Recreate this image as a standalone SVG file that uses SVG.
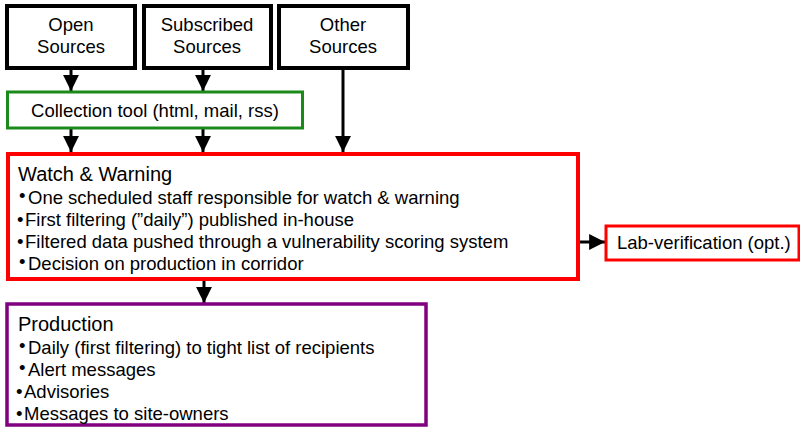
<svg xmlns="http://www.w3.org/2000/svg" width="800" height="427" viewBox="0 0 800 427">
<style>
text{font-family:"Liberation Sans",Arial,sans-serif;fill:#000}
.src{fill:#fff;stroke:#000;stroke-width:4}
.c{text-anchor:middle;font-size:18.5px}
.b{font-size:18.5px}
.t{font-size:20px}
.ln{stroke:#000;stroke-width:3;fill:none}
</style>
<defs>
<marker id="ah" viewBox="0 0 10 10" refX="10" refY="5" markerWidth="5.3" markerHeight="5.3" orient="auto" markerUnits="strokeWidth">
<path d="M0,0 L10,5 L0,10 z" fill="#000"/>
</marker>
</defs>
<rect width="800" height="427" fill="#fff"/>
<g id="connectors">
<line class="ln" x1="71" y1="70" x2="71" y2="91" marker-end="url(#ah)"/>
<line class="ln" x1="203" y1="70" x2="203" y2="91" marker-end="url(#ah)"/>
<line class="ln" x1="343" y1="70" x2="343" y2="152" marker-end="url(#ah)"/>
<line class="ln" x1="71" y1="129" x2="71" y2="152" marker-end="url(#ah)"/>
<line class="ln" x1="203" y1="129" x2="203" y2="152" marker-end="url(#ah)"/>
<line class="ln" x1="204" y1="280" x2="204" y2="303" marker-end="url(#ah)"/>
<line class="ln" x1="580" y1="242" x2="605" y2="242" marker-end="url(#ah)"/>
</g>
<g id="open-sources">
<rect class="src" x="7" y="6" width="128" height="62"/>
<text class="c" x="71" y="31">Open</text>
<text class="c" x="71" y="53">Sources</text>
</g>
<g id="subscribed-sources">
<rect class="src" x="144" y="6" width="127" height="62"/>
<text class="c" x="207" y="31">Subscribed</text>
<text class="c" x="207" y="53">Sources</text>
</g>
<g id="other-sources">
<rect class="src" x="279" y="6" width="129" height="62"/>
<text class="c" x="343" y="31">Other</text>
<text class="c" x="343" y="53">Sources</text>
</g>
<g id="collection-tool">
<rect x="7.5" y="92" width="295" height="36" fill="#fff" stroke="#1a8a1a" stroke-width="3"/>
<text class="c" x="155" y="117">Collection tool (html, mail, rss)</text>
</g>
<g id="watch-warning">
<rect x="8" y="154" width="570" height="125" fill="#fff" stroke="#f00" stroke-width="4"/>
<text class="t" x="18" y="180.5">Watch &amp; Warning</text>
<text class="b" x="19" y="204"><tspan dy="-2.5">•</tspan><tspan x="28" dy="2.5">One scheduled staff responsible for watch &amp; warning</tspan></text>
<text class="b" x="17" y="226">•<tspan x="25">First filtering (”daily”) published in-house</tspan></text>
<text class="b" x="17" y="248">•<tspan x="25">Filtered data pushed through a vulnerability scoring system</tspan></text>
<text class="b" x="19" y="270"><tspan dy="-2.5">•</tspan><tspan x="28" dy="2.5">Decision on production in corridor</tspan></text>
</g>
<g id="lab-verification">
<rect x="606" y="226" width="193" height="34" fill="#fff" stroke="#f00" stroke-width="3"/>
<text class="b" x="617" y="249">Lab-verification (opt.)</text>
</g>
<g id="production">
<rect x="7" y="304" width="419" height="121" fill="#fff" stroke="#800080" stroke-width="3.5"/>
<text class="t" x="18" y="330.5">Production</text>
<text class="b" x="19" y="354"><tspan dy="-2.5">•</tspan><tspan x="28" dy="2.5">Daily (first filtering) to tight list of recipients</tspan></text>
<text class="b" x="19" y="376"><tspan dy="-2.5">•</tspan><tspan x="28" dy="2.5">Alert messages</tspan></text>
<text class="b" x="16" y="398">•<tspan x="24">Advisories</tspan></text>
<text class="b" x="16" y="420">•<tspan x="24">Messages to site-owners</tspan></text>
</g>
</svg>
